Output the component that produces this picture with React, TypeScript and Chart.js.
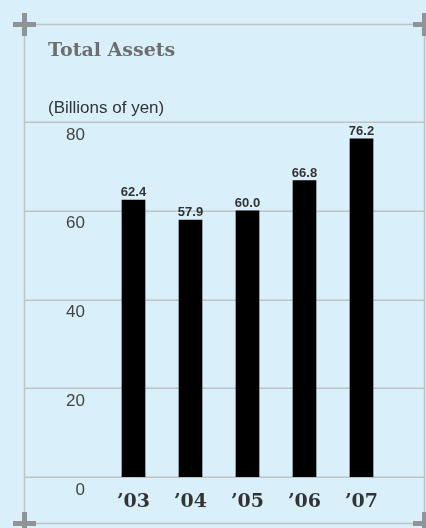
import React, { useEffect, useRef } from "react";
import { Chart, registerables } from "chart.js";

Chart.register(...registerables);

const categories = ["\u201903", "\u201904", "\u201905", "\u201906", "\u201907"];
const totalAssets = [62.4, 57.9, 60.0, 66.8, 76.2];
const valueLabels = ["62.4", "57.9", "60.0", "66.8", "76.2"];
const yTicks = [0, 20, 40, 60, 80];

const TITLE = "Total Assets";
const UNIT = "(Billions of yen)";

const BG = "#d9f0fb";
const LINE = "#bfc2c4";
const CROSS = "#909497";
const SERIF = "'DejaVu Serif', serif";
const SANS = "'Liberation Sans', Arial, sans-serif";

const framePlugin = {
  id: "frame",
  beforeDatasetsDraw(chart: any) {
    const { ctx, width, height } = chart;
    const y = chart.scales.y;
    ctx.save();
    ctx.strokeStyle = LINE;
    ctx.lineWidth = 1.5;
    y.ticks.forEach((t: any) => {
      const py = Math.round(y.getPixelForValue(t.value)) + 0.25;
      ctx.beginPath();
      ctx.moveTo(24.5, py);
      ctx.lineTo(424.5, py);
      ctx.stroke();
    });
    ctx.beginPath();
    ctx.moveTo(24.5, 24.5);
    ctx.lineTo(width, 24.5);
    ctx.moveTo(24.5, 24.5);
    ctx.lineTo(24.5, height);
    ctx.moveTo(424.5, 24.5);
    ctx.lineTo(424.5, height);
    ctx.moveTo(24.5, 523.5);
    ctx.lineTo(width, 523.5);
    ctx.stroke();
    ctx.restore();
  },
  afterDraw(chart: any) {
    const { ctx } = chart;
    ctx.save();
    ctx.fillStyle = CROSS;
    const crosses = [
      [24.5, 24.5],
      [424.5, 24.5],
      [24.5, 523.5],
      [424.5, 523.5],
    ];
    crosses.forEach(([cx, cy]) => {
      ctx.fillRect(cx - 11.5, cy - 2.5, 23, 5);
      ctx.fillRect(cx - 2.5, cy - 11.5, 5, 23);
    });
    ctx.restore();
  },
};

const valueLabelPlugin = {
  id: "valueLabels",
  afterDatasetsDraw(chart: any) {
    const { ctx } = chart;
    const meta = chart.getDatasetMeta(0);
    ctx.save();
    ctx.fillStyle = "#333333";
    ctx.font = `bold 13px ${SANS}`;
    ctx.textAlign = "center";
    ctx.textBaseline = "alphabetic";
    meta.data.forEach((el: any, i: number) => {
      ctx.fillText(valueLabels[i], el.x, el.y - 4);
    });
    ctx.restore();
  },
};

export default function App() {
  const canvasRef = useRef<HTMLCanvasElement | null>(null);

  useEffect(() => {
    document.body.style.margin = "0";
    document.body.style.background = BG;
    const canvas = canvasRef.current;
    if (!canvas) return;
    const chart = new Chart(canvas, {
      type: "bar",
      data: {
        labels: categories,
        datasets: [
          {
            label: TITLE,
            data: totalAssets,
            backgroundColor: "#000000",
            borderWidth: 0,
            barThickness: 23,
          },
        ],
      },
      options: {
        responsive: false,
        animation: false,
        devicePixelRatio: 1,
        layout: { padding: { left: 25, right: 36, top: 122, bottom: 11 } },
        plugins: {
          legend: { display: false },
          tooltip: { enabled: false },
          title: { display: false },
        },
        scales: {
          x: {
            grid: { display: false, drawTicks: false },
            border: { display: false },
            ticks: {
              color: "#333333",
              padding: 14,
              font: { family: SERIF, weight: "bold", size: 19 },
            },
            afterFit: (scale: any) => {
              scale.height = 40;
            },
          },
          y: {
            min: 0,
            max: 80,
            afterBuildTicks: (scale: any) => {
              scale.ticks = yTicks.map((v) => ({ value: v }));
            },
            grid: { display: false, drawTicks: false },
            border: { display: false },
            ticks: {
              color: "#444444",
              padding: 20,
              labelOffset: 13,
              font: { family: SANS, size: 17 },
            },
            afterFit: (scale: any) => {
              scale.width = 80;
            },
          },
        },
      },
      plugins: [framePlugin, valueLabelPlugin],
    });
    return () => chart.destroy();
  }, []);

  return (
    <div
      style={{
        position: "relative",
        width: 426,
        height: 528,
        background: BG,
        overflow: "hidden",
      }}
    >
      <canvas
        ref={canvasRef}
        width={426}
        height={528}
        style={{ position: "absolute", left: 0, top: 0, width: 426, height: 528 }}
      />
      <div
        style={{
          position: "absolute",
          left: 48,
          top: 36,
          fontFamily: SERIF,
          fontWeight: "bold",
          fontSize: 19,
          lineHeight: "26px",
          color: "#6e6e6e",
          whiteSpace: "nowrap",
        }}
      >
        {TITLE}
      </div>
      <div
        style={{
          position: "absolute",
          left: 48,
          top: 97,
          fontFamily: SANS,
          fontSize: 17,
          lineHeight: "22px",
          color: "#333333",
          whiteSpace: "nowrap",
        }}
      >
        {UNIT}
      </div>
    </div>
  );
}
